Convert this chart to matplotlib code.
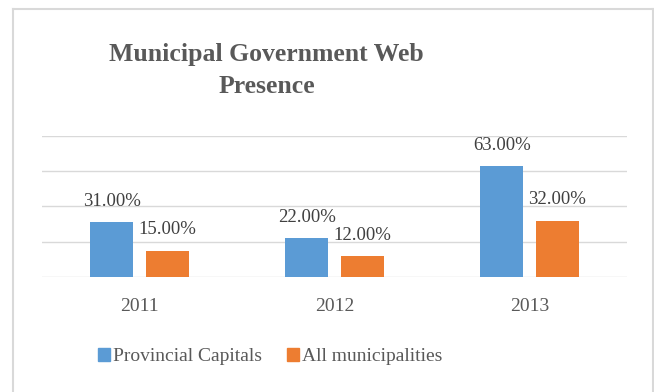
import matplotlib.pyplot as plt
import numpy as np
from matplotlib.patches import Patch
from matplotlib.lines import Line2D

plt.rcParams['font.family'] = ['Liberation Serif', 'DejaVu Serif']

years = ["2011", "2012", "2013"]
capitals = [31.0, 22.0, 63.0]
all_munis = [15.0, 12.0, 32.0]
series_names = ["Provincial Capitals", "All municipalities"]

blue = "#5B9BD5"
orange = "#ED7D31"
txt = "#595959"

fig = plt.figure(figsize=(6.54, 3.92), dpi=100)
ax = fig.add_axes([0.0642, 0.2934, 0.8945, 0.3597])

x = np.arange(len(years))
w = 0.22
off = 0.142
b1 = ax.bar(x - off, capitals, w, color=blue, zorder=3)
b2 = ax.bar(x + off, all_munis, w, color=orange, zorder=3)

# value labels above each bar
for bars, vals in ((b1, capitals), (b2, all_munis)):
    for r, v in zip(bars, vals):
        ax.annotate(f"{v:.2f}%", (r.get_x() + r.get_width() / 2, v),
                    xytext=(0, 15), textcoords="offset points",
                    ha="center", va="center", fontsize=13.5, color="#404040")

ax.set_xlim(-0.5, 2.5)
ax.set_ylim(0, 80)
ax.set_yticks([0, 20, 40, 60, 80])
ax.yaxis.grid(True, color="#D9D9D9", lw=1, zorder=0)
ax.tick_params(axis="y", left=False, labelleft=False)
ax.set_xticks(x)
ax.set_xticklabels(years, fontsize=14, color=txt)
ax.tick_params(axis="x", length=0, pad=15)
for s in ax.spines.values():
    s.set_visible(False)

fig.text(0.4075, 0.8214, "Municipal Government Web\nPresence", ha="center",
         va="center", fontsize=18.5, fontweight="bold", color=txt, linespacing=1.5)

handles = [Patch(color=blue), Patch(color=orange)]
fig.legend(handles, series_names, loc="center", bbox_to_anchor=(0.413, 0.09),
           ncol=2, frameon=False, fontsize=14, handlelength=0.6, handleheight=0.6,
           handletextpad=0.15, columnspacing=1.3, labelcolor=txt)

# chart frame
fw, fh = 654, 392
bc = "#D9D9D9"
fig.add_artist(Line2D([12.5 / fw, 12.5 / fw], [0, 1 - 8.5 / fh], color=bc, lw=1.5, transform=fig.transFigure))
fig.add_artist(Line2D([12.5 / fw, 652.5 / fw], [1 - 8.5 / fh, 1 - 8.5 / fh], color=bc, lw=1.5, transform=fig.transFigure))
fig.add_artist(Line2D([652.5 / fw, 652.5 / fw], [0, 1 - 8.5 / fh], color=bc, lw=1.5, transform=fig.transFigure))

fig.savefig("out.png", dpi=100)
